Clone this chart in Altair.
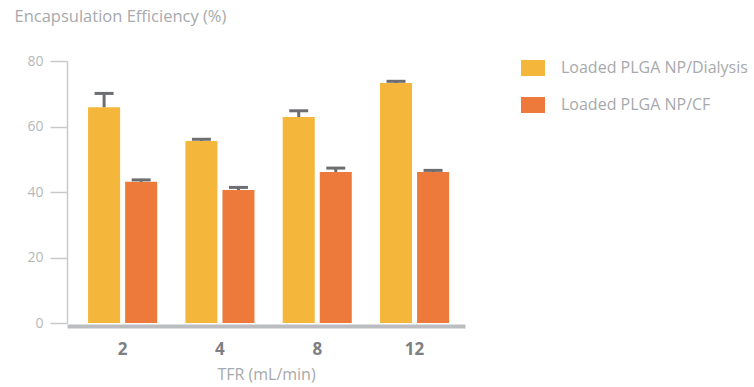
import altair as alt
import pandas as pd

# Total flow rate groups and the two preparation methods
tfr = ["2", "4", "8", "12"]
series = ["Loaded PLGA NP/Dialysis", "Loaded PLGA NP/CF"]
colors = ["#F4B63B", "#ED7A3A"]

# Encapsulation efficiency (%) and the top of each error bar
dialysis_mean = [65.9, 55.6, 62.9, 73.3]
dialysis_upper = [70.1, 56.1, 64.8, 73.8]
cf_mean = [43.1, 40.6, 46.1, 46.1]
cf_upper = [43.7, 41.4, 47.3, 46.6]

rows = []
for name, means, uppers in [(series[0], dialysis_mean, dialysis_upper),
                            (series[1], cf_mean, cf_upper)]:
    for t, m, u in zip(tfr, means, uppers):
        rows.append({"TFR": t, "method": name, "ee": m, "upper": u})
df = pd.DataFrame(rows)

FONT = "Open Sans"

x = alt.X("TFR:N", sort=tfr,
          scale=alt.Scale(paddingInner=0.29, paddingOuter=0.19, align=0.57),
          axis=alt.Axis(title="TFR (mL/min)", labelAngle=0, ticks=False,
                        labelFontWeight="bold", labelFontSize=17,
                        labelColor="#7E7F82", labelPadding=15, offset=3,
                        domainColor="#BCBDC0", domainWidth=4,
                        titleFontSize=16, titleFontWeight="normal",
                        titleColor="#A7A9AC", titlePadding=9))
xo = alt.XOffset("method:N", sort=series,
                 scale=alt.Scale(paddingInner=0.135, paddingOuter=0))
y_scale = alt.Scale(domain=[0, 80])

bars = alt.Chart(df).mark_bar().encode(
    x=x, xOffset=xo,
    y=alt.Y("ee:Q", scale=y_scale,
            axis=alt.Axis(title="Encapsulation Efficiency (%)", values=[0, 20, 40, 60, 80],
                          grid=False, tickSize=17, tickColor="#C8C9CB", tickWidth=1.5,
                          domainColor="#C8C9CB", domainWidth=1.5,
                          labelFontSize=14, labelColor="#B6B8BA", labelPadding=7,
                          titleAngle=0, titleAlign="left", titleBaseline="alphabetic",
                          titleX=-53, titleY=-40, titleFontSize=16.5,
                          titleFontWeight="normal", titleColor="#A7A9AC")),
    color=alt.Color("method:N", sort=series,
                    scale=alt.Scale(domain=series, range=colors),
                    legend=alt.Legend(title=None, orient="none", legendX=458, legendY=-1,
                                      symbolType="M-1.5,-1H1.5V1H-1.5Z", symbolSize=256,
                                      symbolStrokeWidth=0, symbolOpacity=1,
                                      labelFontSize=16, labelColor="#A7A9AC",
                                      labelLimit=300,
                                      labelOffset=20, rowPadding=21, padding=0)),
)

stems = alt.Chart(df).mark_rule(color="#6D6E71", strokeWidth=3).encode(
    x=x, xOffset=xo,
    y=alt.Y("ee:Q", scale=y_scale), y2="upper:Q",
)

caps = alt.Chart(df).mark_tick(color="#6D6E71", size=19, thickness=3, opacity=1).encode(
    x=x, xOffset=xo,
    y=alt.Y("upper:Q", scale=y_scale),
)

chart = alt.layer(bars, stems, caps).properties(
    width=398, height=262,
    autosize=alt.AutoSizeParams(type="none"),
    padding={"left": 67, "top": 61, "right": 289, "bottom": 64},
    background="white",
).configure(font=FONT).configure_view(strokeWidth=0, stroke="transparent")

chart.save("out.html", embed_options={"renderer": "svg", "actions": False})
